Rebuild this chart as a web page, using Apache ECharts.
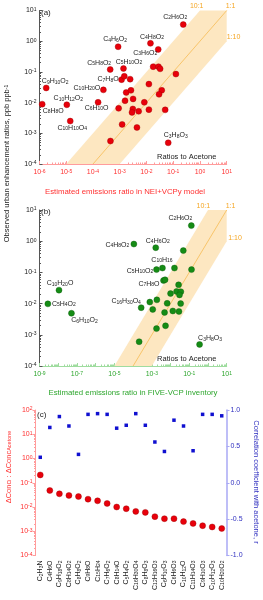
<!DOCTYPE html>
<html><head><meta charset="utf-8">
<script src="https://cdn.jsdelivr.net/npm/echarts@6/dist/echarts.min.js"></script>
<style>html,body{margin:0;padding:0;background:#fff}#c{width:263px;height:600px}</style>
</head><body><div id="c"></div>
<script>
// ---------- Panel (a): NEI+VCPy model ----------
const aNames = ['C2H6O2','C4H6O2','C4H8O2','C3H6O2','C5H8O2','C5H10O2','','','','',
  'C7H8O','','','C9H10O2','C10H20O','','','','','',
  '','','','C8H8O','C10H12O2','C6H10O','','','','',
  '','','C10H10O4','','','C3H8O3',''];
const aX = [0.237,8.7e-4,0.0141,0.0275,4.4e-4,1.38e-3,0.0178,0.0282,0.0324,0.126,
  1.17e-3,1.48e-3,2.45e-3,1.78e-6,2.45e-4,0.0123,1.74e-3,2.63e-3,0.0372,0.0295,
  1.58e-3,3.16e-3,8.3e-3,1.26e-6,1.05e-5,1.55e-4,9.1e-4,3.09e-3,2.88e-3,5.1e-3,
  0.0123,0.050,1.41e-5,1.23e-3,4.4e-3,0.065,4.5e-4];
const aY = [3.47,0.66,0.85,0.54,0.12,0.129,0.148,0.148,0.126,0.085,
  0.056,0.072,0.058,0.030,0.026,0.040,0.0214,0.0251,0.0251,0.0186,
  0.0115,0.0132,0.0102,0.0089,0.0085,0.0102,0.0065,0.0062,0.0048,0.0052,
  0.0059,0.0058,0.0025,0.00195,0.00155,4.9e-4,5.6e-4];

// ---------- Panel (b): FIVE-VCP inventory ----------
const bNames = ['C2H6O2','C4H8O2','C4H6O2','','C10H16','','','C5H10O2','C7H8O','',
  'C10H20O','','','','','','C5H4O2','C16H30O4','','',
  '','','','','','','C6H10O2','','','','C3H8O3'];
const bX = [0.129,1.1e-4,1.62e-3,0.048,3.7e-3,0.0162,0.132,1.78e-3,4.2e-3,5.1e-3,
  1.1e-8,0.0269,0.010,0.021,0.0355,0.030,2.8e-9,2.7e-4,7.8e-4,1.86e-3,
  6.6e-3,0.0347,1.12e-3,4.8e-3,0.0132,0.0282,5.1e-8,1.78e-3,5.4e-3,2.1e-4,0.355];
const bY = [3.16,0.81,0.62,0.50,0.138,0.138,0.123,0.123,0.055,0.058,
  0.027,0.040,0.021,0.0245,0.024,0.019,0.0098,0.0074,0.0112,0.0132,
  0.0102,0.0100,0.0065,0.0052,0.0058,0.0056,0.0049,0.00158,0.00195,6.0e-4,4.9e-4];

// ---------- Panel (c) ----------
const cCats = ['C2H3N','C4H6O','C9H18O2','C8H14O2','C8H8O2','C9H8O','C15H24','C7H6O2','C8H14O','C5H4O2',
  'C16H30O4','C8H8O3','C12H16O3','C6H10O3','C6H6O3','C10H12O','C11H14O3','C9H10O3','C10H12O3','C10H20O2'];
const cRatio = [0.21,0.048,0.035,0.030,0.027,0.021,0.018,0.014,0.010,0.0085,
  0.0066,0.0060,0.0040,0.0033,0.0033,0.0025,0.0021,0.0017,0.0015,0.0013];
const cCorr = [0.35,0.76,0.91,0.78,0.39,0.94,0.95,0.94,0.75,0.79,
  0.95,0.79,0.56,0.43,0.86,0.78,0.44,0.94,0.94,0.92];

// Ratio guide lines (y : x) and tick values
const ratioLabels = ['10:1','1:1','1:10'];
const bandX = [1e-5, 1, 10, 10, 1e-3];
const bandY = [1e-4, 10, 10, 1, 1e-4];
const oneX = [1e-4, 10];
const oneY = [1e-4, 10];
const corrTicks = ['1.0','0.5','0.0','-0.5','-1.0'];

// ---------- label placement (px offsets from point) ----------
const aOff = {C2H6O2:[-8,-7.5],C4H6O2:[-3,-7.5],C4H8O2:[1.5,-6.5],C3H6O2:[-13,3.5],C5H8O2:[-11,-6.5],
  C5H10O2:[5.5,-6.5],C7H8O:[-13.5,-0.5],C9H10O2:[9,-6.5],C10H20O:[-16.5,-2],C10H12O2:[1.5,-6.5],
  C8H8O:[11,6.5],C6H10O:[-1.5,5.5],C10H10O4:[2,7],C3H8O3:[7.5,-7.5]};
const bOff = {C2H6O2:[-11,-7.5],C4H8O2:[-16.5,1],C4H6O2:[2,-7],C10H16:[-0.5,-8],C5H10O2:[-16.5,1.3],
  C7H8O:[-14.5,3.3],C10H20O:[1,-7],C5H4O2:[16,0],C16H30O4:[-15,-6.5],C6H10O2:[13,7],C3H8O3:[10.5,-6]};

const FONT = 'Liberation Sans, Arial, sans-serif';
function chem(f){ return f.replace(/(\d+)|(\D+)/g,(m,d,t)=> d ? '{s|'+d+'}' : '{n|'+t+'}'); }
const chemRich = {
  n:{fontSize:7,lineHeight:7,verticalAlign:'top',fontFamily:FONT},
  s:{fontSize:5,lineHeight:5,verticalAlign:'bottom',padding:[4,0,0,0],fontFamily:FONT}
};
function pow10(v){ const e = Math.round(Math.log10(v)); return '{b|10}{p|'+e+'}'; }
function pow10odd(v){ const e = Math.round(Math.log10(v)); return (Math.abs(e)%2===1) ? '{b|10}{p|'+e+'}' : ''; }
const powRich = {
  b:{fontSize:7,lineHeight:7,verticalAlign:'bottom',fontFamily:FONT},
  p:{fontSize:5,lineHeight:5,verticalAlign:'top',padding:[0,0,4,0],fontFamily:FONT}
};

function pts(names,xs,ys,off){
  return xs.map((x,i)=>{
    const nm = names[i];
    const o = off[nm];
    return {name:nm, value:[x,ys[i]],
      label: nm ? {show:true, position:'inside', offset:o, formatter: chem(nm)} : {show:false}};
  });
}

const bandFill = '#fde7c1', oneLine = '#f8c46a', ratioCol = '#f5a623';
function band(ai){
  return {type:'custom', xAxisIndex:ai, yAxisIndex:ai, silent:true, z:1, clip:false,
    data:[[1,1]], encode:{x:0,y:1},
    renderItem:(p,api)=>({type:'polygon', shape:{points: bandX.map((x,i)=>api.coord([x,bandY[i]]))},
      style:{fill:bandFill}})};
}
function oneToOne(ai){
  return {type:'line', xAxisIndex:ai, yAxisIndex:ai, silent:true, z:2, symbol:'none',
    data: oneX.map((x,i)=>[x,oneY[i]]), lineStyle:{color:oneLine,width:1}};
}

function logX(gi,min,col,lineCol,fmt){
  return {gridIndex:gi, type:'log', logBase:10, min:min, max:10, interval:1,
    axisLine:{show:true,onZero:false,lineStyle:{color:lineCol,width:1}},
    axisTick:{show:true,inside:true,length:3,lineStyle:{color:lineCol}},
    minorTick:{show:true,splitNumber:9,length:1.5,lineStyle:{color:lineCol}},
    splitLine:{show:false}, minorSplitLine:{show:false},
    axisLabel:{color:col,fontFamily:FONT,margin:5,formatter:fmt,rich:powRich}};
}
function logY(gi,min,max,col,lineCol,inside){
  return {gridIndex:gi, type:'log', logBase:10, min:min, max:max, interval:1, position:'left',
    axisLine:{show:true,onZero:false,lineStyle:{color:lineCol,width:1}},
    axisTick:{show:true,inside:inside,length:3,lineStyle:{color:lineCol}},
    minorTick:{show:true,splitNumber:9,length:1.5,lineStyle:{color:lineCol}},
    splitLine:{show:false}, minorSplitLine:{show:false},
    axisLabel:{color:col,fontFamily:FONT,margin:3,formatter:pow10,rich:powRich}};
}

const txt = (x,y,s,o)=>Object.assign({type:'text', x:x, y:y, silent:true,
  style:Object.assign({text:s, font:'7px '+FONT, fill:'#222', align:'center', verticalAlign:'middle'}, o||{})});

const chart = echarts.init(document.getElementById('c'), null, {renderer:'canvas'});
chart.setOption({
  animation:false,
  backgroundColor:'#fff',
  textStyle:{fontFamily:FONT},
  grid:[
    {left:39.5, top:10.5, width:187.2, height:153.5},
    {left:39.5, top:210, width:187.2, height:156},
    {left:35.5, top:410, width:191, height:145.5}
  ],
  xAxis:[
    logX(0,1e-6,'#ff3030','#ff9c9c',pow10),
    logX(1,1e-9,'#2ea62e','#9fdc9f',pow10odd),
    {gridIndex:2, type:'category', data:cCats.map(chem), boundaryGap:true,
      axisLine:{show:false}, axisTick:{show:false},
      axisLabel:{rotate:90, margin:5, interval:0, color:'#222', fontFamily:FONT, rich:chemRich}}
  ],
  yAxis:[
    logY(0,1e-4,10,'#222','#555',true),
    logY(1,1e-4,10,'#222','#555',true),
    logY(2,1e-4,100,'#ff3030','#ff9c9c',false),
    {gridIndex:2, type:'value', min:-1, max:1, interval:0.5, position:'right',
      axisLine:{show:true,lineStyle:{color:'#a9a9f5',width:1.5}},
      axisTick:{show:true,inside:false,length:3,lineStyle:{color:'#a9a9f5'}},
      splitLine:{show:false},
      axisLabel:{color:'#3030c0',fontFamily:FONT,fontSize:7,margin:4,
        formatter:(v)=>corrTicks[Math.round((1-v)/0.5)]}}
  ],
  series:[
    band(0), oneToOne(0),
    {type:'scatter', xAxisIndex:0, yAxisIndex:0, z:5, symbolSize:6,
      itemStyle:{color:'#e8000b',borderColor:'#9a0000',borderWidth:0.4,opacity:1},
      label:{color:'#222',fontFamily:FONT,rich:chemRich},
      data:pts(aNames,aX,aY,aOff)},
    band(1), oneToOne(1),
    {type:'scatter', xAxisIndex:1, yAxisIndex:1, z:5, symbolSize:6,
      itemStyle:{color:'#158c15',borderColor:'#0b5a0b',borderWidth:0.4,opacity:1},
      label:{color:'#222',fontFamily:FONT,rich:chemRich},
      data:pts(bNames,bX,bY,bOff)},
    {type:'scatter', xAxisIndex:2, yAxisIndex:2, z:5, symbolSize:6,
      itemStyle:{color:'#e8000b',borderColor:'#9a0000',borderWidth:0.4,opacity:1},
      data:cRatio},
    {type:'scatter', xAxisIndex:2, yAxisIndex:3, z:5, symbol:'rect', symbolSize:3.5,
      itemStyle:{color:'#1010d0',opacity:1},
      data:cCorr}
  ],
  graphic:[
    txt(41,12.7,'(a)',{align:'left',font:'8px '+FONT}),
    txt(186.7,156.7,'Ratios to Acetone',{font:'7.5px '+FONT}),
    txt(196.7,6,ratioLabels[0],{fill:ratioCol}),
    txt(230.5,6,ratioLabels[1],{fill:ratioCol}),
    txt(233.5,37.3,ratioLabels[2],{fill:ratioCol}),
    txt(125,191.7,'Estimated emissions ratio in NEI+VCPy model',{fill:'#ff3030',font:'7.8px '+FONT}),
    txt(41,211.7,'(b)',{align:'left',font:'8px '+FONT}),
    txt(186.7,358.7,'Ratios to Acetone',{font:'7.5px '+FONT}),
    txt(203.3,206,ratioLabels[0],{fill:ratioCol}),
    txt(230.5,206,ratioLabels[1],{fill:ratioCol}),
    txt(235,238.3,ratioLabels[2],{fill:ratioCol}),
    txt(133,393.3,'Estimated emissions ratio in FIVE-VCP inventory',{fill:'#2ea62e',font:'7.8px '+FONT}),
    txt(37,415,'(c)',{align:'left',font:'8px '+FONT}),
    {type:'text', x:7.5, y:163.5, rotation:Math.PI/2, silent:true,
      style:{text:'{t|Observed urban enhancement ratios, ppb ppb}{p|-1}', align:'center', verticalAlign:'middle',
        rich:{t:{fontSize:7.5,lineHeight:7.5,verticalAlign:'bottom',fontFamily:FONT,fill:'#222'},
              p:{fontSize:5,lineHeight:5,verticalAlign:'top',padding:[0,0,4,0],fontFamily:FONT,fill:'#222'}}}},
    {type:'text', x:9, y:467, rotation:Math.PI/2, silent:true,
      style:{text:'{t|ΔConc}{s|i}{t| : ΔConc}{s|Acetone}', align:'center', verticalAlign:'middle',
        rich:{t:{fontSize:7.5,lineHeight:7.5,verticalAlign:'top',fontFamily:FONT,fill:'#ff3030'},
              s:{fontSize:5.5,lineHeight:5.5,verticalAlign:'bottom',padding:[4,0,0,0],fontFamily:FONT,fill:'#ff3030'}}}},
    {type:'text', x:256.5, y:482, rotation:-Math.PI/2, silent:true,
      style:{text:'Correlation coefficient with acetone, r', align:'center', verticalAlign:'middle',
        font:'7.5px '+FONT, fill:'#3030c0'}}
  ]
});
</script></body></html>
